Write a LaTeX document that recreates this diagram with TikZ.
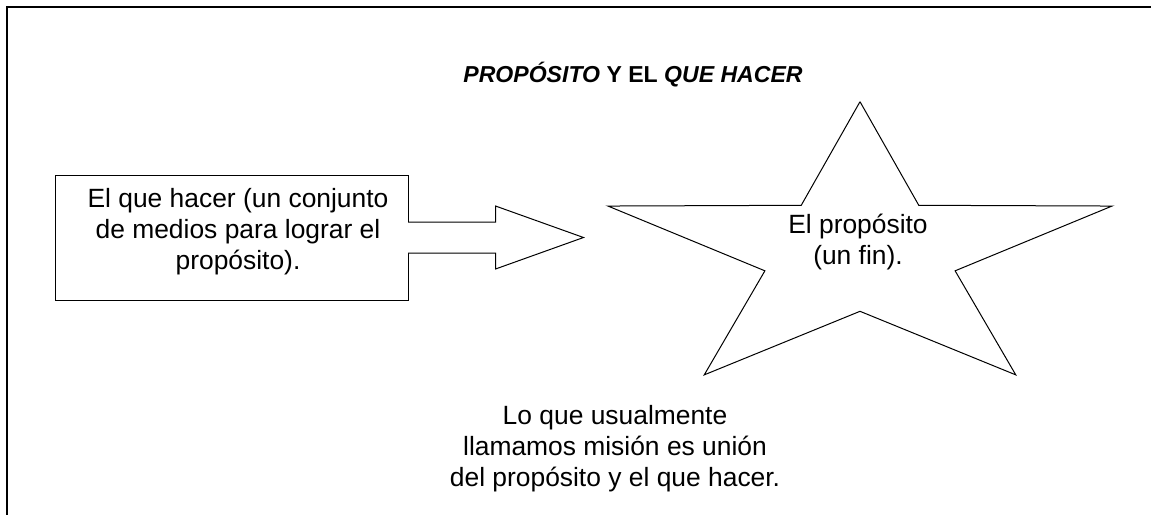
\documentclass[tikz,border=0pt]{standalone}
\usepackage{fontspec}
\setmainfont{Liberation Sans}
\usetikzlibrary{positioning,calc}

\begin{document}
\begin{tikzpicture}[x=0.75pt,y=-0.75pt,
	txt/.style={align=center,inner sep=0pt,font=\fontsize{19.8}{23.3}\selectfont},
	linea/.style={line width=0.75pt,line join=miter}]
	\useasboundingbox (0,0) rectangle (1151,515);
	% marco abierto (solo arriba e izquierda)
	\coordinate (marco der) at (1151,7);
	\coordinate (marco esq) at (7,7);
	\coordinate (marco inf) at (7,515);
	\draw[line width=1pt] (marco der) -- (marco esq) -- (marco inf);

	\node[anchor=base,inner sep=0pt,font=\fontsize{17.3}{20}\selectfont\bfseries] (titulo) at (633,82)
		{\itshape PROPÓSITO\upshape{} Y EL \itshape QUE HACER};

	% caja del que hacer y flecha
	\node[draw,linea,minimum width=264.75pt,minimum height=93.75pt] (medios) at (231.5,237.5) {};
	\node[txt] (mediostxt) at (238,232) {El que hacer (un conjunto\\de medios para lograr el\\propósito).};
	\draw[linea,fill=white] ($(medios.east)+(-0.5,-15.5)$) -- ++(87.5,0) -- ++(0,-16)
		-- ++(88,31.5) -- ++(-88,31.5) -- ++(0,-16) -- ++(-87.5,0);

	% estrella
	\draw[linea,shift={(860,252.7)}] (270:265 and 151)
		\foreach \a in {0,72,144,216,288} {-- (\a+306:100 and 58.6) -- (\a+342:265 and 151)};
	\node[txt] (proposito) at (858,242) {El propósito\\(un fin).};

	\node[txt] (mision) at (615,449) {Lo que usualmente\\llamamos misión es unión\\del propósito y el que hacer.};
\end{tikzpicture}
\end{document}
